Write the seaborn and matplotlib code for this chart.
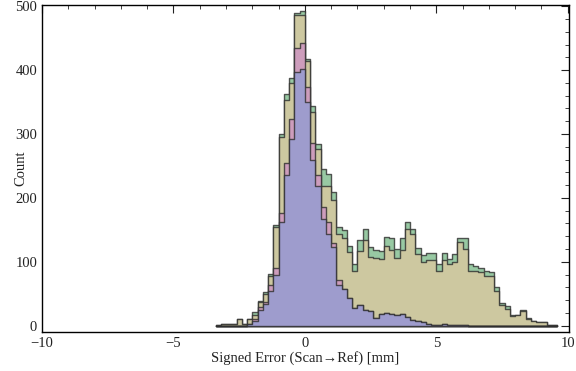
import numpy as np
import pandas as pd
import matplotlib.pyplot as plt
import seaborn as sns

# histogram bins: 0.2 mm wide, from -3.4 to 9.6
bin_start = -3.4
bin_width = 0.2

# four nested series (tallest drawn first)
green = [1, 3, 3, 3, 11, 3, 11, 21, 39, 52, 81, 158, 300, 362, 388, 489, 492, 418, 344, 285,
         246, 237, 209, 155, 150, 125, 97, 134, 151, 123, 119, 117, 139, 137, 120, 138, 162, 152, 121, 110,
         113, 114, 97, 114, 105, 112, 138, 137, 96, 94, 91, 85, 84, 60, 36, 30, 17, 17, 25, 12,
         8, 6, 5, 1, 1]
olive = [1, 3, 3, 3, 11, 3, 10, 17, 37, 50, 77, 155, 296, 353, 380, 487, 487, 414, 334, 277,
         218, 218, 196, 144, 138, 116, 86, 117, 134, 107, 106, 104, 125, 119, 106, 119, 151, 144, 112, 99,
         103, 103, 85, 103, 97, 100, 131, 120, 86, 85, 84, 78, 77, 55, 32, 26, 15, 16, 23, 11,
         8, 6, 5, 1, 1]
pink = [0, 0, 0, 0, 0, 0, 3, 11, 29, 37, 63, 91, 177, 255, 323, 435, 443, 374, 286, 236,
        185, 163, 129, 72, 58, 43, 28, 32, 25, 23, 12, 19, 20, 18, 17, 19, 13, 9, 7, 5,
        3, 1, 1, 3, 1, 1, 1, 1, 0, 0, 0, 0, 0, 0, 0, 0, 0, 0, 0, 0,
        0, 0, 0, 0, 0]
purple = [0, 0, 0, 0, 0, 0, 2, 8, 25, 34, 55, 80, 162, 236, 293, 397, 402, 350, 260, 218,
          167, 143, 123, 64, 58, 43, 28, 32, 25, 23, 12, 19, 20, 18, 17, 19, 13, 9, 7, 5,
          3, 1, 1, 3, 1, 1, 1, 1, 0, 0, 0, 0, 0, 0, 0, 0, 0, 0, 0, 0,
          0, 0, 0, 0, 0]

series = [("green", green, "#98c9a3"),
          ("olive", olive, "#cdc8a0"),
          ("pink", pink, "#cd9dbc"),
          ("purple", purple, "#9e9ccd")]

n = len(green)
edges = [round(bin_start + bin_width * i, 2) for i in range(n + 1)]
centers = [e + bin_width / 2 for e in edges[:-1]]

sns.set_style("white")
plt.rcParams["font.family"] = ["Liberation Serif", "DejaVu Serif"]

fig = plt.figure(figsize=(5.76, 3.71), dpi=100)
ax = fig.add_axes([0.073, 0.105, 0.915, 0.8815])

for name, counts, col in series:
    df = pd.DataFrame({"err": centers, "count": counts})
    sns.histplot(data=df, x="err", weights="count", bins=edges, element="step", fill=True,
                 color=col, alpha=1, edgecolor=(0.18, 0.18, 0.18, 0.8), linewidth=1.0, ax=ax)

ax.set_xlim(-10, 10.05)
ax.set_ylim(-10, 502)
ax.set_xticks([-10, -5, 0, 5, 10])
ax.set_xticks(np.arange(-10, 11, 1), minor=True)
ax.set_yticks(np.arange(0, 501, 100))
ax.set_yticks(np.arange(0, 501, 20), minor=True)
ax.tick_params(which="both", direction="in", top=True, right=True, labelsize=10.5, colors="#222222")
ax.tick_params(which="major", length=6, width=0.8, pad=3.5)
ax.tick_params(which="minor", length=3, width=0.6)
for s in ax.spines.values():
    s.set_color("black")
    s.set_linewidth(1.0)

ax.set_xlabel("Signed Error (Scan\u2192Ref) [mm]", fontsize=10.5, color="#222222")
ax.set_ylabel("Count", fontsize=10.5, color="#222222")
ax.xaxis.set_label_coords(0.5, -0.079)
ax.yaxis.set_label_coords(-0.04, 0.5)
ax.xaxis.label.set_va("center")
ax.yaxis.label.set_va("center")

fig.savefig("out.png", dpi=100)
